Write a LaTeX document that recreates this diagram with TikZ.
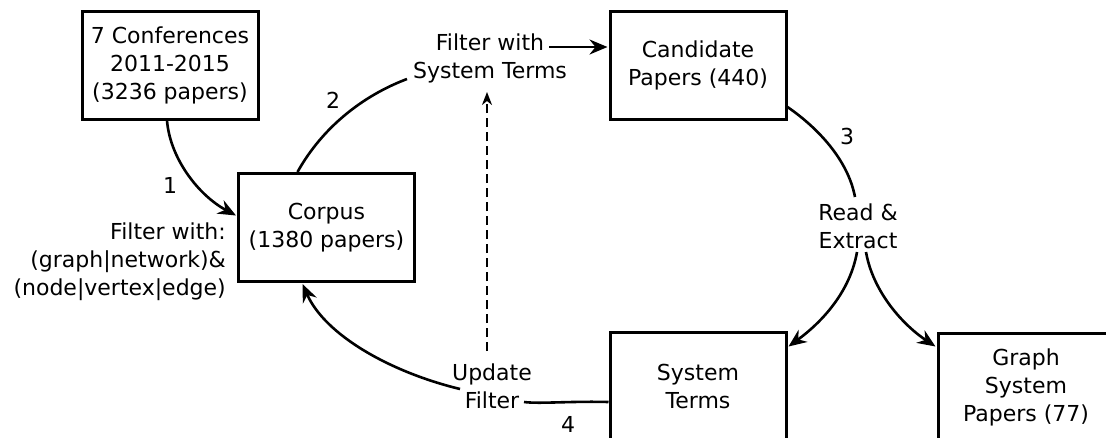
\documentclass[tikz,border=0pt]{standalone}
\usepackage{fontspec}
\setmainfont{DejaVu Sans}
\usetikzlibrary{arrows.meta,calc}
\begin{document}
\begin{tikzpicture}[x=1pt,y=-1pt,
  box/.style={draw,line width=3pt,minimum width=176pt,minimum height=108pt,align=center,inner sep=0pt,font=\fontsize{22}{28}\selectfont},
  lbl/.style={align=center,inner sep=0pt,font=\fontsize{22}{28}\selectfont},
  conn/.style={line width=2.6pt},
  arr/.style={conn,-{Stealth[length=18pt,width=15pt,inset=6pt]}},
  darr/.style={line width=1.8pt,dash pattern=on 9pt off 5pt,-{Stealth[length=13pt,width=10pt,inset=4pt]}}]
\clip (0,0) rectangle (1106,437);
\useasboundingbox (0,0) rectangle (1106,437);
% boxes
\node[box] (conf) at (170,65) {7 Conferences\\2011-2015\\(3236 papers)};
\node[box] (corpus) at (326.5,227.5) {Corpus\\(1380 papers)};
\node[box] (cand) at (698,65) {Candidate\\Papers (440)};
\node[box] (sys) at (698,386) {System\\Terms};
\node[box] (gsp) at (1026,387) {Graph\\System\\Papers (77)};
% labels
\node[lbl] (n1) at (170,185) {1};
\node[lbl,align=right,anchor=east] (fw1) at (226,262) {Filter with:\\(graph|network)\&\\(node|vertex|edge)};
\node[lbl] (n2) at (333,100) {2};
\node[lbl] (fst) at (490,58) {Filter with\\System Terms};
\node[lbl] (n3) at (847,136) {3};
\node[lbl] (re) at (858,226) {Read \&\\Extract};
\node[lbl] (uf) at (492,386) {Update\\Filter};
\node[lbl] (n4) at (568,424) {4};
% free ends
\coordinate (fstL) at (407,79);
\coordinate (fstR) at (549,47);
\coordinate (reT) at (855,197);
\coordinate (reBL) at (857,252);
\coordinate (reBR) at (866,252);
\coordinate (ufR) at (524,402);
\coordinate (ufL) at (460,389);
\coordinate (dashB) at (487,351);
\coordinate (dashT) at (487,92);
% connectors
\draw[arr] ($(conf.south)+(-3,0)$) .. controls (170,158) and (198,195) .. ($(corpus.west)+(-1,-12)$);
\draw[conn] ($(corpus.north)+(-29,0)$) .. controls (322,128) and (362,96) .. (fstL);
\draw[arr] (fstR) -- ($(cand.west)+(-1,-18)$);
\draw[conn] ($(cand.east)+(0,42)$) .. controls (818,128) and (848,160) .. (reT);
\draw[arr] (reBL) .. controls (850,292) and (822,322) .. ($(sys.north east)+(1,16)$);
\draw[arr] (reBR) .. controls (873,292) and (903,325) .. ($(gsp.north west)+(-1,15)$);
\draw[conn] ($(sys.west)+(0,16)$) .. controls (570,401) and (540,404) .. (ufR);
\draw[arr] (ufL) .. controls (390,372) and (325,335) .. ($(corpus.south)+(-24,1)$);
\draw[darr] (dashB) -- (dashT);
\end{tikzpicture}
\end{document}
